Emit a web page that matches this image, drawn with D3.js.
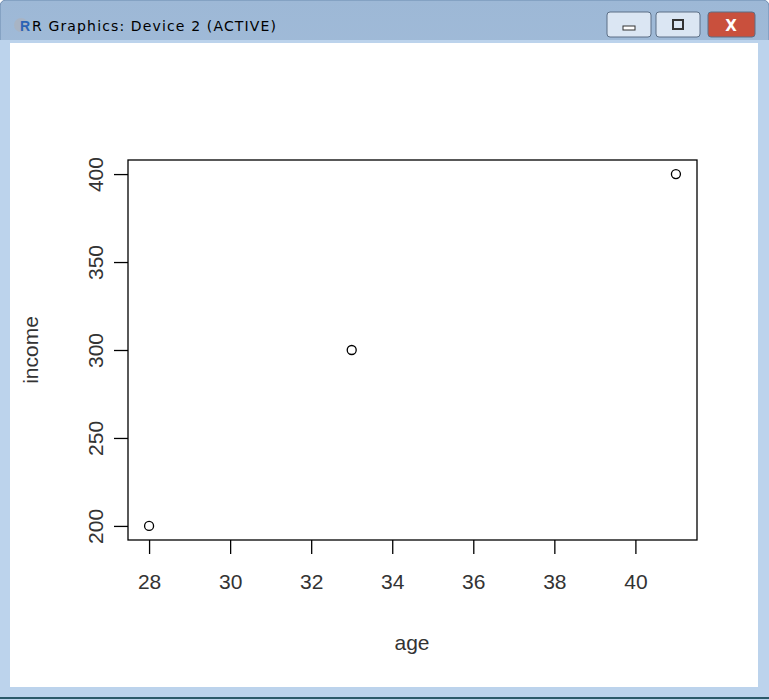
<!DOCTYPE html>
<html><head><meta charset="utf-8">
<script src="https://cdn.jsdelivr.net/npm/d3@7"></script>
<style>body{margin:0;background:#fff}</style>
</head><body>
<div id="chart"></div>
<script>
var ages = [28, 33, 41];
var incomes = [200, 300, 400];
var xTicks = [28, 30, 32, 34, 36, 38, 40];
var yTicks = [200, 250, 300, 350, 400];

var W = 769, H = 700;
var svg = d3.select("#chart").append("svg").attr("width", W).attr("height", H);

// window frame
var grad = svg.append("defs").append("linearGradient").attr("id", "tb")
    .attr("x1", 0).attr("y1", 0).attr("x2", 0).attr("y2", 1);
grad.append("stop").attr("offset", "0%").attr("stop-color", "#9db8d6");
grad.append("stop").attr("offset", "100%").attr("stop-color", "#c3d6ec");
svg.append("rect").attr("x", 0).attr("y", 0).attr("width", W).attr("height", H)
    .attr("rx", 6).style("fill", "url(#tb)").style("stroke", "#6d8bb0");
svg.append("rect").attr("x", 0).attr("y", 40).attr("width", W).attr("height", H - 40)
    .style("fill", "#bcd3ec");
svg.append("rect").attr("x", 10).attr("y", 43).attr("width", 748).attr("height", 644)
    .style("fill", "#fff");
svg.append("line").attr("x1", 0).attr("x2", W).attr("y1", 698).attr("y2", 698)
    .style("stroke", "#2c5a6a").style("stroke-width", 2);

svg.append("circle").attr("cx", 21).attr("cy", 25).attr("r", 7).style("fill", "#a8b4c4");
svg.append("text").attr("x", 20).attr("y", 31).text("R").style("font-family", "Arial, Liberation Sans")
    .style("font-weight", "bold").style("font-size", "14px").style("fill", "#2a63b5");
svg.append("text").attr("x", 32).attr("y", 31).text("R Graphics: Device 2 (ACTIVE)")
    .style("font-family", "Segoe UI, DejaVu Sans, sans-serif").style("font-size", "14px").style("fill", "#000")
    .attr("textLength", 244);

var btns = [{x: 607, w: 44, c: "#dbe6f3"}, {x: 656, w: 44, c: "#dbe6f3"}, {x: 708, w: 47, c: "#c9503d"}];
svg.selectAll(".btn").data(btns).enter().append("rect").attr("class", "btn")
    .attr("x", function (d) { return d.x; }).attr("y", 12).attr("width", function (d) { return d.w; })
    .attr("height", 25).attr("rx", 3).style("fill", function (d) { return d.c; }).style("stroke", "#5c6f86");
svg.append("rect").attr("x", 623).attr("y", 26).attr("width", 12).attr("height", 4).style("fill", "#fff").style("stroke", "#333");
svg.append("rect").attr("x", 673).attr("y", 20).attr("width", 10).attr("height", 9).style("fill", "none").style("stroke", "#333").style("stroke-width", 2);
svg.append("text").attr("x", 731).attr("y", 31).attr("text-anchor", "middle").text("X")
    .style("font-family", "DejaVu Sans").style("font-weight", "bold").style("font-size", "15px").style("fill", "#fff");

// plot
var x = d3.scaleLinear().domain([27.48, 41.52]).range([128, 697]);
var y = d3.scaleLinear().domain([192, 408]).range([540, 160]);
var font = "Liberation Sans, Arial, sans-serif";

svg.append("rect").attr("x", 128).attr("y", 160).attr("width", 569).attr("height", 380)
    .style("fill", "none").style("stroke", "#000").style("stroke-width", 1.3);

var gx = svg.append("g").attr("transform", "translate(0,540)")
    .call(d3.axisBottom(x).tickValues(xTicks).tickSize(14).tickPadding(20).tickFormat(d3.format("d")));
var gy = svg.append("g").attr("transform", "translate(128,0)")
    .call(d3.axisLeft(y).tickValues(yTicks).tickSize(14).tickFormat(d3.format("d")));
[gx, gy].forEach(function (g) {
    g.select(".domain").remove();
    g.selectAll("line").style("stroke", "#000").style("stroke-width", 1.3);
    g.selectAll("text").style("font-family", font).style("font-size", "21px").style("fill", "#333");
});
gy.selectAll("text").attr("x", null).attr("dy", null).attr("text-anchor", "middle")
    .attr("transform", "translate(-32,0) rotate(-90)").attr("y", 0).attr("dy", "0.35em");

svg.selectAll(".pt").data(ages).enter().append("circle").attr("class", "pt")
    .attr("cx", function (d) { return x(d); })
    .attr("cy", function (d, i) { return y(incomes[i]); })
    .attr("r", 4.5).style("fill", "none").style("stroke", "#000").style("stroke-width", 1.3);

svg.append("text").attr("x", 412).attr("y", 650).attr("text-anchor", "middle").text("age")
    .style("font-family", font).style("font-size", "21px").style("fill", "#333");
svg.append("text").attr("transform", "translate(38,350) rotate(-90)").attr("text-anchor", "middle").text("income")
    .style("font-family", font).style("font-size", "21px").style("fill", "#333");
</script>
</body></html>
